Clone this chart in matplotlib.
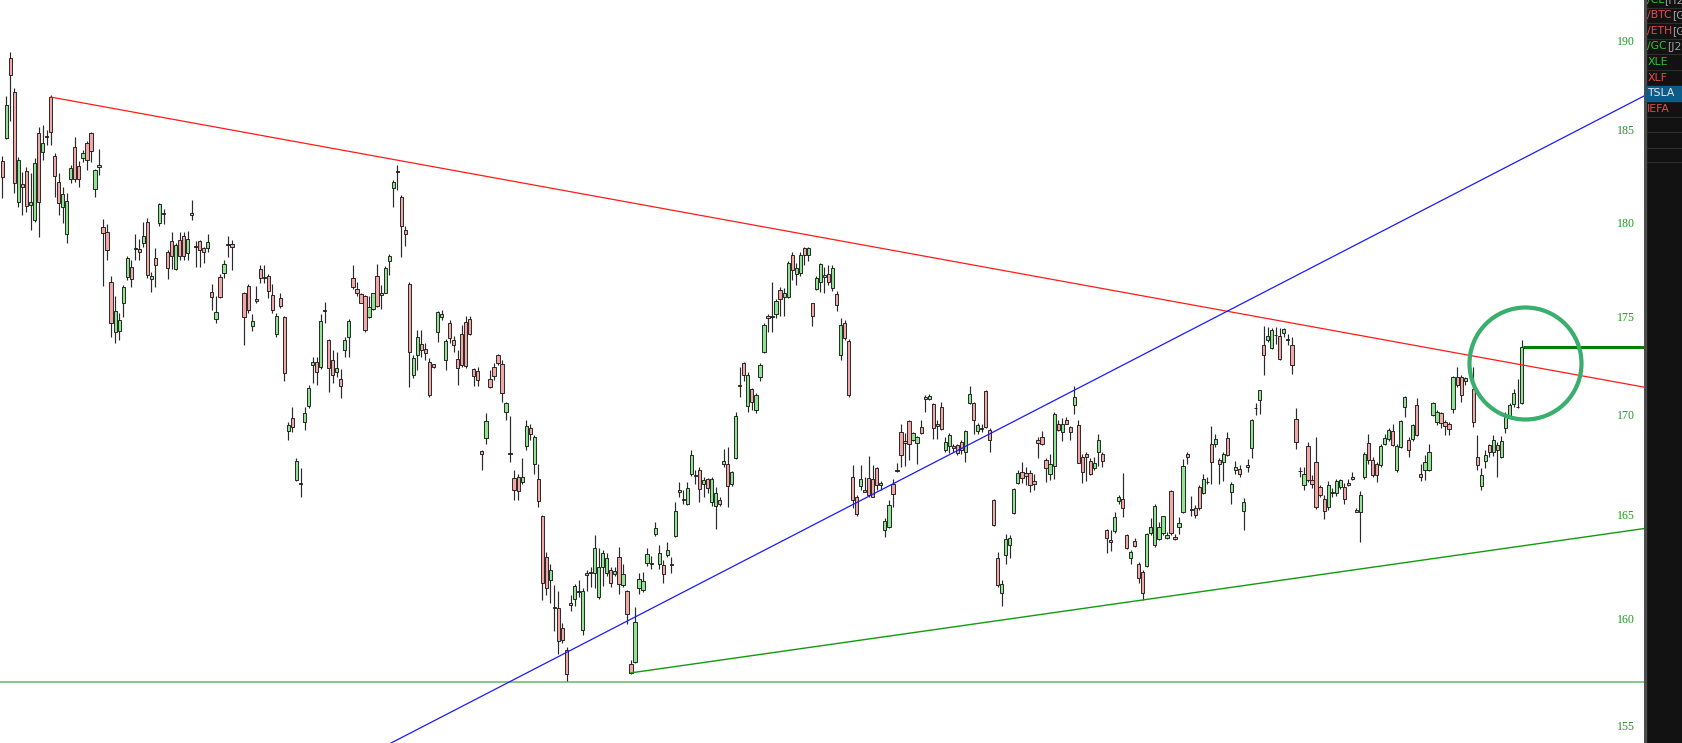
import numpy as np
import matplotlib
matplotlib.use("Agg")
import matplotlib.pyplot as plt
from matplotlib.transforms import blended_transform_factory
from matplotlib.patches import Rectangle

# ---------------- data ----------------
n_slots = 378
missing_slots = [58, 59, 364]

opens = [183.4,184.65,189.1,187.2,181.15,182.15,182.85,181.0,180.2,184.9,183.85,184.75,186.9,183.65,182.25,180.9,179.45,182.4,184.15,183.1,
183.55,184.35,184.9,181.85,183.05,179.8,179.55,176.9,174.3,174.35,175.8,177.15,177.7,178.7,178.65,178.95,180.1,177.05,178.15,180.05,
180.55,178.5,179.05,177.6,179.15,179.35,178.45,180.45,178.8,179.05,178.7,178.7,176.4,174.95,177.15,177.4,178.9,178.9,176.35,176.7,
174.6,176.0,177.6,177.15,177.2,176.2,174.2,176.05,175.05,169.25,169.9,166.8,166.65,169.7,170.5,172.6,172.75,172.5,175.45,173.9,
172.85,172.25,171.85,173.35,174.05,177.1,176.55,176.25,176.15,175.05,175.5,177.2,176.2,176.35,178.0,181.9,182.85,181.45,179.65,176.8,
172.1,173.1,173.65,173.4,172.75,172.65,174.3,175.05,172.85,174.75,173.9,172.9,174.2,174.8,174.95,172.4,172.3,168.25,168.9,171.9,
172.5,173.1,172.65,170.2,168.15,166.9,166.95,166.7,168.5,169.4,167.6,166.85,165.0,163.0,161.9,160.6,160.55,159.6,158.55,160.7,
161.0,161.4,159.5,162.25,162.3,162.25,161.1,162.55,162.25,162.4,162.2,163.0,161.65,161.4,157.9,158.0,161.5,161.45,162.75,162.75,
164.15,162.7,162.65,163.1,162.7,164.05,166.2,165.85,165.6,167.1,167.05,167.3,166.6,166.85,165.7,165.5,165.8,167.6,167.6,166.6,
167.9,171.55,172.7,170.5,171.35,170.3,172.0,173.25,175.1,175.1,175.25,176.5,176.1,176.1,178.35,177.35,177.4,178.7,178.35,175.8,
176.55,176.9,177.15,177.3,176.6,176.25,173.1,174.75,173.85,166.95,165.95,166.5,166.3,166.9,166.85,167.4,166.55,164.35,164.5,166.6,
167.3,169.2,168.75,169.75,168.8,168.65,169.45,170.85,170.85,170.6,169.5,170.45,168.3,168.5,168.5,168.55,168.7,168.2,170.65,170.65,
169.25,169.4,171.25,169.3,165.8,162.95,161.3,163.1,163.6,165.15,166.65,167.2,167.15,167.15,166.75,168.8,168.95,167.8,167.1,167.5,
169.6,169.2,169.8,169.45,170.55,169.55,167.95,168.1,167.75,167.4,168.2,168.1,164.35,163.85,164.27,165.75,165.85,164.08,162.95,163.8,
162.7,162.3,162.6,164.2,163.6,163.9,164.2,163.95,166.25,164.0,164.5,165.2,168.1,165.35,165.4,166.45,166.15,166.7,168.6,168.6,
167.8,167.7,168.9,166.2,167.3,167.35,165.27,167.45,168.4,170.4,170.8,173.6,173.9,173.45,174.15,174.1,174.25,173.9,173.6,169.85,
167.25,166.55,168.5,166.8,167.7,166.45,165.85,165.45,166.15,166.15,166.45,166.45,166.65,166.85,165.2,165.2,166.95,168.65,167.8,167.6,
167.55,168.6,168.85,169.25,167.3,168.45,170.45,168.8,168.85,170.55,167.1,167.3,167.3,170.05,169.7,170.15,169.7,169.6,170.35,172.0,
172.0,171.75,171.35,167.95,166.5,167.75,168.55,168.2,168.55,167.95,169.4,170.0,170.6,170.45,170.65]

highs = [183.65,186.95,189.4,187.4,183.6,182.8,183.05,182.75,183.55,185.25,185.35,185.1,187.0,183.8,182.75,181.95,181.65,183.15,184.7,183.4,
184.0,184.5,184.95,182.95,184.05,180.25,180.0,177.2,176.15,175.3,176.75,178.25,178.05,179.45,179.2,180.1,180.3,177.45,178.7,181.1,
180.8,178.6,179.55,178.95,179.55,179.55,179.6,181.25,179.05,179.1,178.75,179.45,176.8,176.15,177.35,178.05,179.35,179.1,176.4,176.8,
175.25,176.7,177.8,177.8,177.35,176.8,175.3,176.35,175.15,169.7,170.45,167.9,167.4,170.45,171.55,173.0,173.0,175.25,175.85,173.95,
173.35,173.25,172.4,174.05,174.95,177.8,176.9,176.3,176.2,176.15,176.35,177.85,176.75,177.75,178.4,182.35,183.15,181.55,179.85,176.9,
173.1,174.4,174.4,173.7,172.95,172.65,175.4,175.45,173.95,174.9,174.1,173.35,174.65,175.1,175.15,172.45,172.5,168.3,170.15,172.35,
172.7,173.15,172.85,170.7,170.0,167.3,167.1,167.9,169.8,169.6,169.05,167.6,165.05,163.25,162.7,161.65,161.4,159.85,158.7,161.2,
161.7,161.9,161.5,162.4,162.55,164.1,163.45,163.35,163.2,162.55,162.55,163.5,162.7,161.45,158.1,160.6,162.25,162.3,163.45,163.05,
164.7,163.6,162.85,163.75,163.0,165.7,166.7,166.3,166.7,168.3,167.3,167.45,166.95,166.9,166.95,166.45,165.95,168.35,168.45,167.25,
170.2,172.5,172.75,172.25,171.4,171.15,172.7,174.75,175.25,176.9,176.0,176.65,176.6,178.0,178.5,177.9,178.5,178.75,178.75,175.8,
177.2,177.9,177.7,177.8,177.8,176.45,175.0,174.9,173.95,167.55,166.05,167.55,166.95,168.0,167.55,167.45,166.75,164.9,165.8,166.85,
167.65,169.6,169.15,169.8,169.2,169.0,169.8,171.05,171.1,170.65,169.8,170.7,168.95,169.15,168.6,168.6,168.8,169.3,171.5,170.7,
169.65,169.6,171.3,169.4,165.85,163.25,161.9,164.15,164.1,166.4,167.3,167.7,167.45,167.3,167.1,168.95,169.25,167.9,168.1,170.2,
169.8,169.9,169.95,169.5,171.5,169.8,168.1,168.2,167.9,167.95,169.1,168.2,164.4,164.35,165.23,166.05,167.15,164.15,163.35,163.95,
162.8,162.4,164.2,164.9,165.6,164.7,165.0,164.25,166.3,164.15,164.95,167.85,168.2,166.0,165.55,166.55,167.1,166.95,169.5,169.1,
167.9,168.2,169.2,166.7,167.75,167.55,165.9,167.85,169.85,170.65,171.3,174.6,174.55,174.5,174.55,174.5,174.5,174.2,174.05,170.4,
167.45,167.45,168.7,167.05,168.95,166.55,166.05,166.75,166.4,166.85,166.85,166.65,166.85,167.2,165.43,166.25,168.2,169.1,167.95,167.7,
168.6,169.1,169.4,169.6,168.6,169.8,171.0,168.95,169.6,170.9,167.6,168.05,168.6,170.7,170.3,170.2,169.8,169.7,172.05,172.5,
172.1,172.0,172.5,169.05,167.4,168.3,168.6,169.05,168.7,169.0,170.2,170.65,171.35,171.9,173.9]

lows = [181.4,184.6,185.6,181.65,180.9,180.45,180.6,179.65,180.1,179.3,183.45,184.25,184.25,181.45,180.45,180.05,178.95,182.2,182.25,181.95,
183.35,182.9,183.35,181.45,182.6,176.7,178.05,174.05,173.7,173.9,175.05,177.0,176.65,178.05,178.05,178.75,177.1,176.4,176.65,179.85,
180.0,177.05,177.6,177.55,178.05,178.05,178.05,180.2,177.7,177.7,177.9,178.5,175.45,174.75,176.05,177.1,178.2,177.55,173.6,175.3,
174.35,175.8,176.85,176.85,176.05,175.3,174.05,175.55,171.75,168.8,169.2,166.75,165.95,169.3,170.4,171.65,171.55,172.4,174.75,171.2,
171.65,172.0,170.9,173.0,173.0,176.55,176.15,175.8,174.3,175.0,175.45,175.6,175.5,176.3,177.25,180.9,181.8,178.2,178.8,171.45,
171.95,172.35,173.0,172.85,170.95,172.45,173.8,174.9,172.35,173.7,173.25,171.55,172.5,172.45,174.15,171.5,171.5,167.3,168.6,171.4,
171.8,172.6,170.7,169.8,167.7,165.8,165.8,166.6,168.3,168.8,167.1,165.45,160.95,161.2,160.8,159.45,158.4,158.9,157.1,160.4,
160.65,161.1,159.3,161.4,161.55,161.5,161.0,161.6,162.1,161.55,162.1,161.25,161.55,159.8,157.45,157.95,161.25,161.35,162.6,162.45,
164.05,162.45,161.75,163.0,162.25,164.0,165.95,165.6,165.55,167.0,166.6,165.7,165.95,166.15,165.5,164.4,165.5,167.45,165.45,166.5,
167.85,170.95,171.75,170.2,170.3,170.15,171.75,173.2,174.3,174.3,175.0,175.1,175.1,176.05,177.0,176.75,177.2,177.8,178.0,174.6,
176.5,176.4,176.35,176.75,176.45,175.4,172.85,173.9,170.95,165.4,165.0,166.3,166.2,165.95,165.95,166.3,166.3,164.0,164.45,165.45,
167.2,167.45,167.5,167.8,168.75,167.6,169.1,170.2,170.8,168.85,168.85,169.3,168.2,168.15,168.2,168.05,168.1,167.7,170.6,169.1,
169.1,169.2,169.4,168.2,164.55,161.55,160.65,162.7,162.95,165.1,166.6,166.65,166.55,166.2,166.3,167.9,168.55,166.7,166.8,166.85,
169.25,168.75,169.6,168.8,170.1,167.65,166.65,166.75,167.05,167.3,167.5,167.45,163.2,163.3,164.2,165.6,164.98,163.4,162.7,163.5,
161.75,160.95,162.55,164.1,163.5,163.85,164.1,163.9,164.1,163.85,164.15,165.15,167.6,165.0,164.93,165.3,166.1,166.6,166.6,168.45,
166.6,166.75,168.0,165.6,167.1,166.95,164.33,167.2,167.9,170.05,170.1,172.1,173.8,173.4,173.65,172.85,174.05,173.6,172.15,168.35,
166.95,166.3,166.7,166.4,165.35,165.95,164.85,165.3,165.95,166.0,166.35,165.6,166.5,166.8,165.2,163.75,166.85,167.6,166.95,166.7,
167.45,168.55,168.75,168.5,167.2,168.4,169.95,167.95,168.75,169.0,166.75,166.8,167.25,170.0,169.55,169.4,169.05,169.05,170.15,171.45,
170.7,171.55,169.45,167.3,166.3,167.4,167.95,168.0,166.95,167.9,169.15,169.95,170.45,170.4,170.6]

closes = [182.5,186.45,188.15,182.2,183.45,181.95,180.95,181.15,183.25,181.15,184.35,184.7,184.95,182.55,181.1,181.6,181.2,183.0,182.4,182.4,
183.8,183.45,183.95,182.9,183.15,179.5,178.6,174.75,175.4,174.9,176.65,178.15,177.05,178.65,178.5,179.35,177.25,177.2,177.8,181.05,
180.5,177.65,178.25,178.85,178.25,178.25,179.2,180.55,178.75,178.6,178.5,179.0,176.1,175.35,176.1,177.85,178.85,178.75,175.05,175.45,
174.85,175.9,177.1,177.1,176.45,175.45,175.1,175.65,172.2,169.55,169.45,167.75,166.6,170.15,171.4,172.75,172.25,174.85,175.4,172.45,
172.1,172.45,171.5,173.9,174.85,176.65,176.35,175.8,174.4,175.6,176.3,175.65,176.3,177.65,178.3,182.25,182.8,179.85,179.45,173.25,
172.95,174.05,173.35,173.2,171.05,172.5,175.35,175.25,173.85,174.0,173.6,172.45,172.6,172.55,174.2,172.05,171.8,168.1,169.75,171.45,
172.05,172.7,171.15,170.65,168.1,166.3,166.25,166.95,169.5,169.1,168.95,165.75,161.75,161.5,162.4,160.55,159.0,159.05,157.45,160.8,
161.6,161.35,161.4,162.15,162.25,163.45,162.55,163.2,162.95,161.75,162.35,161.7,162.2,160.3,157.5,159.9,161.95,161.85,163.15,162.7,
164.45,163.2,162.2,163.35,162.65,165.25,166.3,165.8,166.4,168.05,167.0,166.35,166.8,166.4,166.85,166.15,165.6,167.75,166.5,167.2,
170.0,171.5,172.1,172.1,170.7,171.05,172.6,174.65,175.0,175.05,175.9,176.0,176.3,177.9,177.55,177.65,178.35,178.35,178.7,175.15,
177.1,177.85,177.25,176.9,177.65,175.7,174.65,174.0,171.05,165.8,165.1,166.85,166.2,166.05,165.95,166.55,166.65,164.75,165.55,166.1,
167.25,168.05,168.65,168.6,169.15,168.95,169.15,170.95,171.0,169.4,169.6,169.35,168.7,169.05,168.4,168.15,168.3,169.25,171.1,169.8,
169.55,169.35,169.45,168.8,164.6,161.65,161.7,163.9,163.95,166.35,167.15,166.9,167.0,166.55,166.6,168.65,168.6,167.4,167.6,170.1,
169.3,169.6,169.6,169.2,170.95,167.65,167.2,167.95,167.1,167.65,168.8,167.75,163.95,163.75,164.95,165.95,165.4,163.45,163.25,163.55,
162.0,161.3,164.15,164.5,165.5,164.5,165.0,164.1,164.2,163.9,164.65,167.5,167.95,165.3,165.05,165.4,166.85,166.7,167.7,168.85,
167.6,168.1,168.05,166.6,167.45,167.1,165.7,167.55,169.8,170.4,171.3,173.1,174.1,174.4,174.15,172.9,174.45,173.9,172.6,168.7,
167.25,167.1,166.8,166.6,165.45,166.05,165.25,166.55,166.2,166.75,166.8,165.85,166.55,166.95,165.3,166.05,168.1,167.8,167.05,167.05,
168.5,168.9,169.3,168.55,168.5,169.75,170.95,168.3,169.55,169.05,166.95,167.7,168.2,170.65,170.2,169.65,169.5,169.35,171.97,171.55,
171.05,171.95,169.7,167.55,167.05,168.05,168.2,168.8,168.3,168.75,169.95,170.55,171.15,170.45,173.5]

price_ticks = [155, 160, 165, 170, 175, 180, 185, 190]

# trend lines: anchor points (bar, price)
resistance_pts = [(12, 186.9), (377, 172.6)]        # red, starts at first anchor
rising_pts = [(140, 158.46), (377, 183.48)]          # blue, full width
support_pts = [(156, 157.5), (283, 160.95)]          # green, starts at first anchor
floor_level = 157.08                                 # light green horizontal
highlight_center = (377.85, 172.69)                  # circled area

watch_symbols = ["/CL", "/BTC", "/ETH", "/GC", "XLE", "XLF", "TSLA", "IEFA"]
watch_suffix = ["[H22]", "[G22]", "[G22]", "[J22]", "", "", "", ""]
watch_up = [True, False, False, True, True, False, None, False]
selected_symbol = "TSLA"

# ---------------- figure ----------------
W, H, DPI = 1683, 743, 100
PLOT_W = 1644
fig = plt.figure(figsize=(W / DPI, H / DPI), dpi=DPI, facecolor="white")
ax = fig.add_axes([0, 0, PLOT_W / W, 1])
ax.set_yscale("log")
slot_px = 4.03
x_left = -2.3 / slot_px
x_right = (PLOT_W - 2.3) / slot_px
ax.set_xlim(x_left, x_right)
ax.set_ylim(154.25, 192.37)
ax.axis("off")

bars = np.array([i for i in range(n_slots) if i not in missing_slots])
o = np.array(opens); h = np.array(highs); l = np.array(lows); c = np.array(closes)
up = c >= o
body_lo = np.minimum(o, c)
body_hi = np.maximum(o, c)
body_h = np.maximum(body_hi - body_lo, 0.01)

ax.vlines(bars, l, h, colors="#2a2a2a", linewidth=0.85, zorder=2)
ax.bar(bars, body_h, bottom=body_lo, width=0.8,
       color=np.where(up, "#8fe58f", "#f2a6a6"),
       edgecolor="#1c1c1c", linewidth=0.65, zorder=3)

def log_line(pts, x0, x1):
    (a, pa), (b, pb) = pts
    k = (np.log(pb) - np.log(pa)) / (b - a)
    xs = np.array([x0, x1])
    return xs, pa * np.exp(k * (xs - a))

xs, ys = log_line(resistance_pts, resistance_pts[0][0], x_right)
ax.plot(xs, ys, color="#ff1a1a", linewidth=0.9, zorder=4)
xs, ys = log_line(rising_pts, x_left, x_right)
ax.plot(xs, ys, color="#1a1aff", linewidth=0.9, zorder=4)
xs, ys = log_line(support_pts, support_pts[0][0], x_right)
ax.plot(xs, ys, color="#129a12", linewidth=1.0, zorder=4)
ax.axhline(floor_level, color="#7cc47c", linewidth=1.3, zorder=1)

# last price line
ax.plot([bars[-1] + 0.4, x_right], [closes[-1], closes[-1]],
        color="#008000", linewidth=2.2, solid_capstyle="butt", zorder=5)

# highlight circle
ax.plot([highlight_center[0]], [highlight_center[1]], marker="o",
        markersize=112 * 72 / DPI, markerfacecolor="none",
        markeredgecolor="#3aae6c", markeredgewidth=4.2 * 72 / DPI, zorder=6)

# price labels inside plot
tr = blended_transform_factory(ax.transAxes, ax.transData)
for p in price_ticks:
    ax.text(1626 / PLOT_W, p, str(p), transform=tr, ha="center", va="center",
            fontsize=8.6, color="#229a22", family="Liberation Serif", zorder=7)

# ---------------- watchlist panel ----------------
px = fig.add_axes([PLOT_W / W, 0, (W - PLOT_W) / W, 1])
px.set_xlim(0, W - PLOT_W)
px.set_ylim(H, 0)
px.axis("off")
px.add_patch(Rectangle((0, 0), W - PLOT_W, H, color="#121212", zorder=0))
px.add_patch(Rectangle((0, 0), 2.2, H, color="#4d4d4d", zorder=1))

row_h = 15.6
row0 = -0.3
for k in range(len(watch_symbols) + 2):
    yb = row0 + row_h * k + row_h / 2
    px.plot([3, W - PLOT_W], [yb, yb], color="#2e2e2e", linewidth=0.8, zorder=1)
px.plot([3, W - PLOT_W], [162, 162], color="#2e2e2e", linewidth=0.8, zorder=1)

fig.canvas.draw()
renderer = fig.canvas.get_renderer()
for k, (sym, suf, isup) in enumerate(zip(watch_symbols, watch_suffix, watch_up)):
    yc = row0 + row_h * k
    if sym == selected_symbol:
        px.add_patch(Rectangle((2.2, yc - row_h / 2), W - PLOT_W, row_h,
                               color="#0f5b88", zorder=2))
        col = "#e8e8e8"
    else:
        col = "#2fc42f" if isup else "#e84a4a"
    t = px.text(3.2, yc, sym, ha="left", va="center", fontsize=7.8,
                color=col, family="DejaVu Sans", zorder=3, clip_on=True)
    if suf:
        bb = t.get_window_extent(renderer=renderer)
        inv = px.transData.inverted()
        xend = inv.transform((bb.x1, bb.y0))[0]
        px.text(xend, yc, suf, ha="left", va="center", fontsize=7.8,
                color="#a0a0a0", family="DejaVu Sans", zorder=3, clip_on=True)

fig.savefig("out.png", dpi=DPI, facecolor="white")
